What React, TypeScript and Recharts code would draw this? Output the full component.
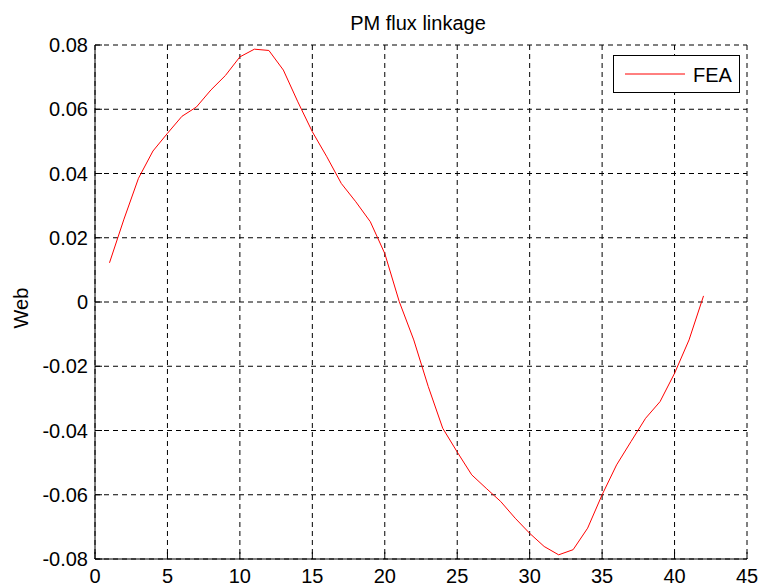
import React from 'react';
import {
  LineChart,
  Line,
  XAxis,
  YAxis,
  CartesianGrid,
  Legend
} from 'recharts';

const positions = [
  1, 2, 3, 4, 5, 6, 7, 8, 9, 10, 11, 12, 13, 14, 15, 16, 17, 18, 19, 20, 21,
  22, 23, 24, 25, 26, 27, 28, 29, 30, 31, 32, 33, 34, 35, 36, 37, 38, 39, 40, 41, 42
];
const fluxFEA = [
  0.0122, 0.0258, 0.0385, 0.047, 0.0525, 0.0578, 0.0607, 0.066, 0.0705, 0.0763, 0.0787,
  0.0783, 0.0722, 0.0623, 0.053, 0.0452, 0.0369, 0.0312, 0.025, 0.0151, 0.0001,
  -0.0118, -0.0263, -0.0393, -0.0467, -0.0538, -0.058, -0.0621, -0.0673, -0.072, -0.0761,
  -0.0787, -0.0771, -0.0704, -0.06, -0.0507, -0.0434, -0.0362, -0.031, -0.0222, -0.0118, 0.0019
];
const xTicks = [0, 5, 10, 15, 20, 25, 30, 35, 40, 45];
const yTicks = [-0.08, -0.06, -0.04, -0.02, 0, 0.02, 0.04, 0.06, 0.08];
const seriesName = 'FEA';
const chartTitle = 'PM flux linkage';
const yLabel = 'Web';

const data = positions.map((p, i) => ({ pos: p, flux: fluxFEA[i] }));

const FONT = '"Liberation Sans", Arial, sans-serif';
const W = 758;
const H = 586;
const PLOT_LEFT = 95;
const RIGHT_GAP = 11;
const tickStyle = { fill: '#000', fontSize: 20, fontFamily: FONT };

const fmtY = (v: number) => (v === 0 ? '0' : v.toFixed(2));

// y label + title, both hung off the left axis label slot
const AxisTexts = (props: any) => {
  const vb = props.viewBox || {};
  const lx = 28;
  const ly = vb.y + vb.height / 2 + 6;
  const tx = (PLOT_LEFT + W - RIGHT_GAP) / 2 - 3;
  return (
    <g>
      <text
        x={lx}
        y={ly}
        transform={`rotate(-90, ${lx}, ${ly})`}
        textAnchor="middle"
        fill="#000"
        fontSize={20}
        fontFamily={FONT}
      >
        {yLabel}
      </text>
      <text x={tx} y={vb.y - 15} textAnchor="middle" fill="#000" fontSize={20} fontFamily={FONT}>
        {chartTitle}
      </text>
    </g>
  );
};

const LegendBox = () => (
  <svg width={127} height={38} style={{ display: 'block' }}>
    <rect x={0.5} y={0.5} width={126} height={37} fill="#fff" stroke="#000" />
    <line x1={12} x2={72} y1={19} y2={19} stroke="#ff0000" strokeWidth={1} />
    <text x={80} y={27} fill="#000" fontSize={20} fontFamily={FONT}>
      {seriesName}
    </text>
  </svg>
);

const noTick = () => <g />;

const App: React.FC = () => {
  return (
    <div style={{ position: 'absolute', left: 0, top: 0, width: W, height: H, background: '#fff' }}>
      <LineChart
        width={W}
        height={H}
        data={data}
        margin={{ top: 45, right: RIGHT_GAP, left: 0, bottom: 0 }}
      >
        <CartesianGrid stroke="#000" strokeDasharray="5 4" />
        <XAxis
          dataKey="pos"
          type="number"
          domain={[0, 45]}
          ticks={xTicks}
          height={27}
          interval={0}
          tick={tickStyle}
          tickSize={-7}
          tickMargin={17}
          axisLine={{ stroke: '#000' }}
          tickLine={{ stroke: '#000' }}
        />
        <XAxis
          xAxisId="top"
          orientation="top"
          dataKey="pos"
          type="number"
          domain={[0, 45]}
          ticks={xTicks}
          height={0}
          interval={0}
          tick={noTick}
          tickSize={-7}
          axisLine={{ stroke: '#000' }}
          tickLine={{ stroke: '#000' }}
        />
        <YAxis
          type="number"
          domain={[-0.08, 0.08]}
          ticks={yTicks}
          width={PLOT_LEFT}
          interval={0}
          tick={tickStyle}
          tickFormatter={fmtY}
          tickSize={-7}
          tickMargin={14}
          axisLine={{ stroke: '#000' }}
          tickLine={{ stroke: '#000' }}
          label={<AxisTexts />}
        />
        <YAxis
          yAxisId="right"
          orientation="right"
          type="number"
          domain={[-0.08, 0.08]}
          ticks={yTicks}
          width={0}
          interval={0}
          tick={noTick}
          tickSize={-7}
          axisLine={{ stroke: '#000' }}
          tickLine={{ stroke: '#000' }}
        />
        <Legend
          layout="horizontal"
          verticalAlign="middle"
          align="center"
          wrapperStyle={{ position: 'absolute', left: 613, top: 55, width: 127, height: 38 }}
          content={<LegendBox />}
        />
        <Line
          type="linear"
          dataKey="flux"
          name={seriesName}
          stroke="#ff0000"
          strokeWidth={1}
          dot={false}
          activeDot={false}
          isAnimationActive={false}
        />
      </LineChart>
    </div>
  );
};

export default App;
